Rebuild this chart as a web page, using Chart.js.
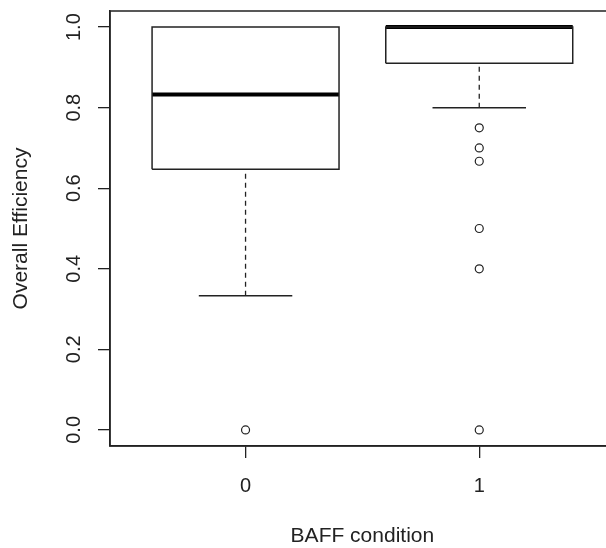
<!DOCTYPE html>
<html>
<head>
<meta charset="utf-8">
<script src="https://cdn.jsdelivr.net/npm/chart.js@4"></script>
<style>
  body { margin: 0; overflow: hidden; background: #fff; }
</style>
</head>
<body>
<canvas id="myChart" width="620" height="548"></canvas>
<script>
// groups and five-number summaries
const groups = ["0", "1"];
const lowerWhisker = [0.333, 0.8];
const q1 = [0.647, 0.91];
const median = [0.833, 1.0];
const q3 = [1.0, 1.0];
const upperWhisker = [1.0, 1.0];
const outliers = [[0], [0.75, 0.7, 0.667, 0.5, 0.4, 0]];
const yTicks = [0, 0.2, 0.4, 0.6, 0.8, 1.0];

const ink = "#222";
const font = "Liberation Sans, Arial, sans-serif";
const boxHalf = 0.4;
const capHalf = 0.2;

function seg(data, width, dash, color) {
    return {
        type: "line", data: data, showLine: true, pointRadius: 0,
        borderColor: color || ink, borderWidth: width, borderDash: dash || [],
        borderCapStyle: "butt", fill: false, tension: 0
    };
}

const datasets = [];
groups.forEach((g, i) => {
    const c = i + 1;
    datasets.push(seg([
        {x: c - boxHalf, y: q1[i]}, {x: c + boxHalf, y: q1[i]},
        {x: c + boxHalf, y: q3[i]}, {x: c - boxHalf, y: q3[i]},
        {x: c - boxHalf, y: q1[i]}], 1.5));
    // whiskers + staples, skipped when they sit on the box edge
    if (lowerWhisker[i] < q1[i]) {
        datasets.push(seg([{x: c, y: lowerWhisker[i]}, {x: c, y: q1[i]}], 1.3, [5, 4]));
        datasets.push(seg([{x: c - capHalf, y: lowerWhisker[i]}, {x: c + capHalf, y: lowerWhisker[i]}], 1.5));
    }
    if (upperWhisker[i] > q3[i]) {
        datasets.push(seg([{x: c, y: q3[i]}, {x: c, y: upperWhisker[i]}], 1.3, [5, 4]));
        datasets.push(seg([{x: c - capHalf, y: upperWhisker[i]}, {x: c + capHalf, y: upperWhisker[i]}], 1.5));
    }
    datasets.push(seg([{x: c - boxHalf, y: median[i]}, {x: c + boxHalf, y: median[i]}], 4, [], "#000"));
    datasets.push({
        type: "scatter",
        data: outliers[i].map(v => ({x: c, y: v})),
        pointRadius: 4, pointBorderWidth: 1.2,
        pointBackgroundColor: "rgba(0,0,0,0)", pointBorderColor: ink
    });
});

// box() around the plot and rotated y labels like R
const framePlugin = {
    id: "frame",
    afterDraw(chart) {
        const {ctx, chartArea: a} = chart;
        ctx.save();
        ctx.strokeStyle = ink;
        ctx.lineWidth = 1.5;
        ctx.strokeRect(a.left, a.top, a.right - a.left, a.bottom - a.top);
        const ys = chart.scales.y;
        ctx.fillStyle = ink;
        ctx.font = "20px " + font;
        ctx.textAlign = "center";
        ctx.textBaseline = "middle";
        ys.ticks.forEach(t => {
            const py = ys.getPixelForValue(t.value);
            ctx.save();
            ctx.translate(a.left - 36, py);
            ctx.rotate(-Math.PI / 2);
            ctx.fillText(t.value.toFixed(1), 0, 0);
            ctx.restore();
        });
        ctx.restore();
    }
};

new Chart(document.getElementById("myChart"), {
    type: "scatter",
    data: {datasets: datasets},
    options: {
        responsive: false,
        animation: false,
        layout: {padding: {top: 11, right: 4, bottom: 0, left: 0}},
        plugins: {legend: {display: false}, tooltip: {enabled: false}},
        scales: {
            x: {
                type: "linear", min: 0.42, max: 2.58,
                afterBuildTicks: s => { s.ticks = groups.map((g, i) => ({value: i + 1})); },
                afterFit: s => { s.height = 102; },
                ticks: {
                    callback: v => groups[v - 1],
                    color: ink, font: {family: font, size: 20}, padding: 16
                },
                grid: {drawOnChartArea: false, drawTicks: true, tickLength: 12, color: ink, lineWidth: 1.3},
                border: {display: true, color: ink, width: 1.5},
                title: {display: true, text: "BAFF condition", color: ink,
                        font: {family: font, size: 21}, padding: {top: 0, bottom: -1}}
            },
            y: {
                type: "linear", min: -0.04, max: 1.04,
                afterBuildTicks: s => { s.ticks = yTicks.map(v => ({value: v})); },
                afterFit: s => { s.width = 110; },
                ticks: {display: false},
                grid: {drawOnChartArea: false, drawTicks: true, tickLength: 12, color: ink, lineWidth: 1.3},
                border: {display: true, color: ink, width: 1.5},
                title: {display: true, text: "Overall Efficiency", color: ink,
                        font: {family: font, size: 21}, padding: {top: 9, bottom: 0}}
            }
        }
    },
    plugins: [framePlugin]
});
</script>
</body>
</html>
